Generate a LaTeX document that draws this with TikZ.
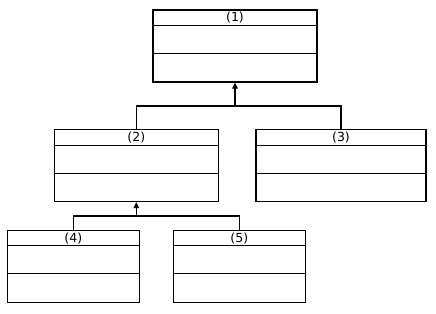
\documentclass[tikz,border=0pt]{standalone}
\usepackage{fontspec}
\setmainfont{DejaVu Sans}
\usetikzlibrary{arrows.meta,calc}
\tikzset{
  cls/.style={draw=black, line width=1.1pt, fill=white, inner sep=0pt, minimum width=#1, minimum height=72pt},
  lbl/.style={inner sep=0pt, font=\fontsize{12.5}{14}\selectfont},
  conn/.style={draw=black, line width=1.1pt},
  tip/.style={conn, -{Triangle[length=6pt,width=5.5pt]}}
}
\newcommand{\clsbox}[4]{% name, x center, y center, width
  \node[cls=#4] (#1) at (#2,#3) {};
  \draw[line width=1.1pt] ($(#1.north west)+(0,16)$) -- ($(#1.north east)+(0,16)$);
  \draw[line width=1.1pt] ($(#1.north west)+(0,44)$) -- ($(#1.north east)+(0,44)$);
}
\begin{document}
\begin{tikzpicture}[x=1pt,y=-1pt]
\useasboundingbox (0,0) rectangle (436,313);
\clsbox{c1}{235}{46}{164pt}
\clsbox{c2}{136.3}{165.6}{164pt}
\clsbox{c3}{341}{165.6}{170pt}
\clsbox{c4}{73.3}{266.2}{132pt}
\clsbox{c5}{239.3}{266.2}{132pt}
\node[lbl] (t1) at ($(c1.north)+(0,8.5)$) {(1)};
\node[lbl] (t2) at ($(c2.north)+(0,8.5)$) {(2)};
\node[lbl] (t3) at ($(c3.north)+(0,8.5)$) {(3)};
\node[lbl] (t4) at ($(c4.north)+(0,8.5)$) {(4)};
\node[lbl] (t5) at ($(c5.north)+(0,8.5)$) {(5)};
\coordinate (j1) at (235,106);
\coordinate (j2) at (136.3,216);
\draw[conn] (c2.north) |- (j1);
\draw[conn] (c3.north) |- (j1);
\draw[tip] (j1) -- (c1.south);
\draw[conn] (c4.north) |- (j2);
\draw[conn] (c5.north) |- (j2);
\draw[tip] (j2) -- (c2.south);
\end{tikzpicture}
\end{document}
